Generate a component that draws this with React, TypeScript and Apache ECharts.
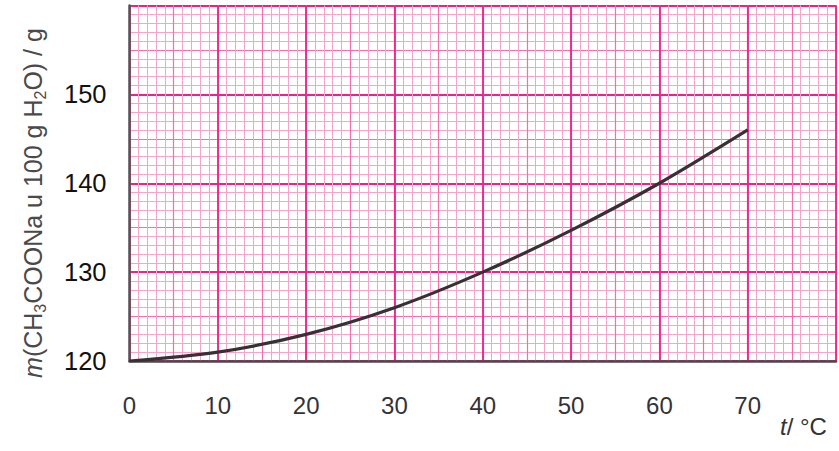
import React, { useEffect, useRef } from "react";
import * as echarts from "echarts";

const temperatures = [0, 10, 20, 30, 40, 50, 60, 70];
const masses = [120, 121, 123, 126, 130, 134.7, 140, 146];
const xTicks = [0, 10, 20, 30, 40, 50, 60, 70];
const yTicks = [120, 130, 140, 150];

const FONT = "'Liberation Sans', Arial, sans-serif";
const MAJOR = "#e9238a";
const MEDIUM = "#f06fae";
const MINOR = "#f5a5cb";

export default function App() {
  const ref = useRef<HTMLDivElement>(null);
  useEffect(() => {
    if (!ref.current) return;
    const chart = echarts.init(ref.current, undefined, { renderer: "svg" });
    const hiddenX = (interval: number, color: string, width: number) => ({
      type: "value",
      position: "bottom",
      offset: 0,
      min: 0,
      max: 80,
      interval,
      axisLine: { show: false },
      axisTick: { show: false },
      axisLabel: { show: false },
      minorTick: { show: false },
      minorSplitLine: { show: false },
      splitArea: { show: false },
      splitLine: { show: true, lineStyle: { color, width } },
    });
    const hiddenY = (interval: number, color: string, width: number) => ({
      type: "value",
      position: "left",
      offset: 0,
      min: 120,
      max: 160,
      interval,
      axisLine: { show: false },
      axisTick: { show: false },
      axisLabel: { show: false },
      minorTick: { show: false },
      minorSplitLine: { show: false },
      splitArea: { show: false },
      splitLine: { show: true, lineStyle: { color, width } },
    });
    chart.setOption({
      animation: false,
      backgroundColor: "#ffffff",
      grid: { left: 129.5, right: 1, top: 5.5, bottom: 90, containLabel: false },
      xAxis: [
        hiddenX(1, MINOR, 1),
        hiddenX(5, MEDIUM, 1.2),
        {
          type: "value",
          position: "bottom",
          offset: 0,
          min: 0,
          max: 80,
          interval: 10,
          axisLine: { show: true, onZero: false, lineStyle: { color: "#4a4a4a", width: 2.5 } },
          axisTick: { show: false },
          axisLabel: {
            show: true,
            margin: 32,
            fontSize: 24,
            fontFamily: FONT,
            color: "#333333",
            formatter: (v: number) => (xTicks.includes(v) ? String(v) : ""),
          },
          splitLine: { show: true, lineStyle: { color: MAJOR, width: 1.8 } },
        },
      ],
      yAxis: [
        hiddenY(1, MINOR, 1),
        hiddenY(5, MEDIUM, 1.2),
        {
          type: "value",
          position: "left",
          offset: 0,
          min: 120,
          max: 160,
          interval: 10,
          axisLine: { show: true, onZero: false, lineStyle: { color: "#555555", width: 2.5 } },
          axisTick: { show: false },
          axisLabel: {
            show: true,
            margin: 23,
            fontSize: 25.5,
            fontFamily: FONT,
            color: "#111111",
            formatter: (v: number) => (yTicks.includes(v) ? String(v) : ""),
          },
          splitLine: { show: true, lineStyle: { color: MAJOR, width: 1.8 } },
        },
      ],
      series: [
        {
          type: "line",
          xAxisIndex: 2,
          yAxisIndex: 2,
          data: temperatures.map((t, i) => [t, masses[i]]),
          smooth: 0.3,
          showSymbol: false,
          symbol: "none",
          lineStyle: { color: "#383035", width: 3.2 },
          z: 10,
        },
      ],
      graphic: [
        {
          type: "text",
          x: 33,
          y: 203,
          rotation: Math.PI / 2,
          style: {
            text: "{i|m}{n|(CH}{s|3}{n|COONa u 100 g H}{s|2}{n|O) / g}",
            align: "center",
            verticalAlign: "middle",
            fill: "#4a4a4a",
            rich: {
              i: { fontSize: 25, fontFamily: FONT, fontStyle: "italic", fill: "#4a4a4a", lineHeight: 30 },
              n: { fontSize: 25, fontFamily: FONT, fill: "#4a4a4a", lineHeight: 30 },
              s: { fontSize: 16, fontFamily: FONT, fill: "#4a4a4a", lineHeight: 30, padding: [15, 0, 0, 0] },
            },
          },
        },
        {
          type: "text",
          x: 780,
          y: 426,
          style: {
            text: "{i|t}{n|/ °C}",
            align: "left",
            verticalAlign: "middle",
            fill: "#333333",
            rich: {
              i: { fontSize: 24, fontFamily: FONT, fontStyle: "italic", fill: "#333333" },
              n: { fontSize: 24, fontFamily: FONT, fill: "#333333" },
            },
          },
        },
      ],
    });
    return () => chart.dispose();
  }, []);
  return <div ref={ref} style={{ width: 839, height: 451, position: "absolute", left: 0, top: 0 }} />;
}
